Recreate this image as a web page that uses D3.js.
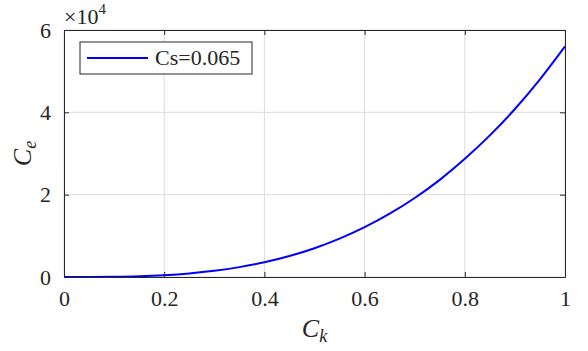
<!DOCTYPE html>
<html>
<head>
<meta charset="utf-8">
<script src="https://cdn.jsdelivr.net/npm/d3@7"></script>
</head>
<body style="margin:0;background:#fff">
<div id="chart"></div>
<script>
// values
const ck = [0, 0.05, 0.1, 0.15, 0.2, 0.25, 0.3, 0.35, 0.4, 0.45, 0.5,
  0.55, 0.6, 0.65, 0.7, 0.75, 0.8, 0.85, 0.9, 0.95, 1];
const ce = [0, 7, 56, 190, 450, 875, 1510, 2400, 3580, 5100, 7000,
  9320, 12100, 15380, 19200, 23600, 28700, 34400, 40800, 48000, 56000];
const xTicks = [0, 0.2, 0.4, 0.6, 0.8, 1];
const yTicks = [0, 20000, 40000, 60000];
const seriesName = "Cs=0.065";

const width = 588, height = 351;
const margin = { top: 30, right: 23, bottom: 74, left: 64 };
const font = "Times New Roman";

const svg = d3.select("#chart").append("svg")
  .attr("width", width).attr("height", height)
  .style("font-family", font);

const x = d3.scaleLinear().domain([0, 1]).range([margin.left, width - margin.right]);
const y = d3.scaleLinear().domain([0, 60000]).range([height - margin.bottom, margin.top]);

const gridColor = "#dcdcdc";
const axisColor = "#262626";

// grid
svg.append("g").selectAll("line").data(xTicks).join("line")
  .attr("x1", d => x(d)).attr("x2", d => x(d))
  .attr("y1", y(0)).attr("y2", y(60000))
  .attr("stroke", gridColor).attr("stroke-width", 1);
svg.append("g").selectAll("line").data(yTicks).join("line")
  .attr("x1", x(0)).attr("x2", x(1))
  .attr("y1", d => y(d)).attr("y2", d => y(d))
  .attr("stroke", gridColor).attr("stroke-width", 1);

// curve
svg.append("path")
  .datum(ck.map((d, i) => [d, ce[i]]))
  .attr("fill", "none")
  .attr("stroke", "#0000ff")
  .attr("stroke-width", 2)
  .attr("d", d3.line().x(d => x(d[0])).y(d => y(d[1])).curve(d3.curveMonotoneX));

// axes with inward ticks
const tickLen = 5;
const xAxis = g => g
  .attr("transform", `translate(0,${y(0)})`)
  .call(d3.axisBottom(x).tickValues(xTicks).tickSize(-tickLen).tickPadding(13)
    .tickFormat(d3.format("~g")).tickSizeOuter(0));
const xAxisTop = g => g
  .attr("transform", `translate(0,${y(60000)})`)
  .call(d3.axisTop(x).tickValues(xTicks).tickSize(-tickLen).tickFormat("").tickSizeOuter(0));
const yAxis = g => g
  .attr("transform", `translate(${x(0)},0)`)
  .call(d3.axisLeft(y).tickValues(yTicks).tickSize(-tickLen).tickPadding(13)
    .tickFormat(d => d / 10000).tickSizeOuter(0));
const yAxisRight = g => g
  .attr("transform", `translate(${x(1)},0)`)
  .call(d3.axisRight(y).tickValues(yTicks).tickSize(-tickLen).tickFormat("").tickSizeOuter(0));

[xAxis, xAxisTop, yAxis, yAxisRight].forEach(a => {
  const g = svg.append("g").call(a);
  g.attr("font-family", font).attr("font-size", 22);
  g.selectAll("path, line").attr("stroke", axisColor).attr("stroke-width", 1);
  g.selectAll("text").attr("fill", axisColor).attr("font-family", font);
});

// exponent label
const expo = svg.append("text").attr("x", 64).attr("y", 24)
  .attr("font-family", font).attr("font-size", 22).attr("fill", axisColor);
expo.append("tspan").text("\u00d710");
expo.append("tspan").attr("dy", -10).attr("font-size", 15).text("4");

// axis titles
const xt = svg.append("text").attr("x", x(0.5)).attr("y", 337)
  .attr("text-anchor", "middle").attr("font-family", font)
  .attr("font-size", 26).attr("font-style", "italic").attr("fill", axisColor);
xt.append("tspan").text("C");
xt.append("tspan").attr("dy", 5).attr("font-size", 18).text("k");

const yt = svg.append("text")
  .attr("transform", `translate(31,${(y(0) + y(60000)) / 2}) rotate(-90)`)
  .attr("text-anchor", "middle").attr("font-family", font)
  .attr("font-size", 26).attr("font-style", "italic").attr("fill", axisColor);
yt.append("tspan").text("C");
yt.append("tspan").attr("dy", 5).attr("font-size", 18).text("e");

// legend
const lg = svg.append("g").attr("transform", "translate(80,42)");
lg.append("rect").attr("width", 172).attr("height", 32)
  .attr("fill", "#fff").attr("stroke", axisColor).attr("stroke-width", 1);
lg.append("line").attr("x1", 7).attr("x2", 68).attr("y1", 16).attr("y2", 16)
  .attr("stroke", "#0000ff").attr("stroke-width", 2);
lg.append("text").attr("x", 75).attr("y", 23).attr("font-family", font)
  .attr("font-size", 22).attr("fill", axisColor).text(seriesName);
</script>
</body>
</html>
